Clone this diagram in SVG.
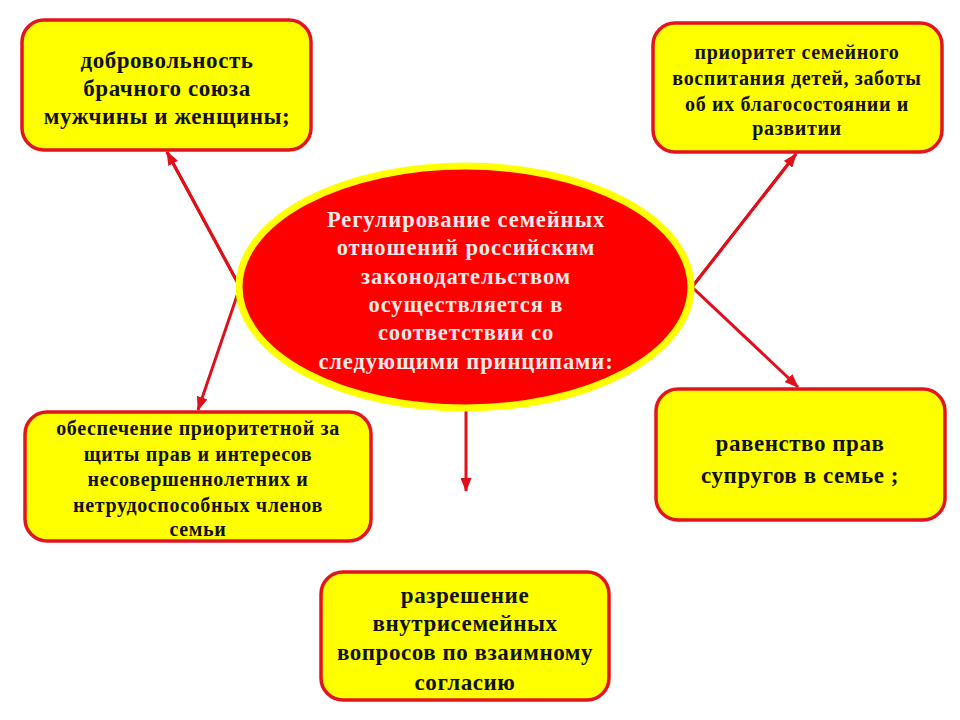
<svg xmlns="http://www.w3.org/2000/svg" width="960" height="720" viewBox="0 0 960 720">
<defs>
<style>
.box{fill:#ffff00;stroke:#e2141c;stroke-width:3.5}
.t{font-family:"Liberation Serif","Times New Roman",serif;font-weight:bold;fill:#111;text-anchor:middle}
.big{font-size:23px;letter-spacing:0.55px}
.small{font-size:20px;letter-spacing:0.65px}
.ct{font-family:"Liberation Serif","Times New Roman",serif;font-weight:bold;font-size:22.5px;fill:#fbeaea;text-anchor:middle;letter-spacing:0.9px}
.conn{stroke:#e0101a;stroke-width:3;fill:none}
</style>
<marker id="ah" viewBox="0 0 14 11" refX="13" refY="5.5" markerWidth="14" markerHeight="11" markerUnits="userSpaceOnUse" orient="auto">
<path d="M0,0 L14,5.5 L0,11 Z" fill="#e0101a"/>
</marker>
</defs>
<rect width="960" height="720" fill="#fff"/>
<g id="connectors">
<polyline class="conn" points="167,152 240,287 198,410" marker-end="url(#ah)"/>
<line class="conn" x1="240" y1="287" x2="167" y2="152" marker-end="url(#ah)"/>
<polyline class="conn" points="796,154 692,287 798,387" marker-end="url(#ah)"/>
<line class="conn" x1="692" y1="287" x2="796" y2="154" marker-end="url(#ah)"/>
<line class="conn" x1="466" y1="405" x2="466" y2="491" marker-end="url(#ah)"/>
</g>
<g id="center">
<ellipse cx="465" cy="287" rx="226" ry="121" fill="#ff0000" stroke="#ffff00" stroke-width="7"/>
<text class="ct" x="466" y="227">Регулирование семейных</text>
<text class="ct" x="466" y="255">отношений российским</text>
<text class="ct" x="466" y="284">законодательством</text>
<text class="ct" x="466" y="312">осуществляется в</text>
<text class="ct" x="466" y="340">соответствии со</text>
<text class="ct" x="466" y="369">следующими принципами:</text>
</g>
<g id="n1">
<rect class="box" x="22" y="20" width="289" height="130" rx="22"/>
<text class="t big" x="167" y="68">добровольность</text>
<text class="t big" x="167" y="96">брачного союза</text>
<text class="t big" x="167" y="124">мужчины и женщины;</text>
</g>
<g id="n2">
<rect class="box" x="653" y="23" width="289" height="129" rx="22"/>
<text class="t small" x="797" y="59">приоритет семейного</text>
<text class="t small" x="797" y="85">воспитания детей, заботы</text>
<text class="t small" x="797" y="111">об их благосостоянии и</text>
<text class="t small" x="797" y="135">развитии</text>
</g>
<g id="n3">
<rect class="box" x="25" y="412" width="346" height="129" rx="22"/>
<text class="t small" x="198" y="435">обеспечение приоритетной за</text>
<text class="t small" x="198" y="461">щиты прав и интересов</text>
<text class="t small" x="198" y="486">несовершеннолетних и</text>
<text class="t small" x="198" y="512">нетрудоспособных членов</text>
<text class="t small" x="198" y="536">семьи</text>
</g>
<g id="n4">
<rect class="box" x="656" y="389" width="289" height="131" rx="22"/>
<text class="t big" x="800" y="451">равенство прав</text>
<text class="t big" x="800" y="483">супругов в семье ;</text>
</g>
<g id="n5">
<rect class="box" x="321" y="572" width="288" height="128" rx="22"/>
<text class="t big" x="465" y="603">разрешение</text>
<text class="t big" x="465" y="631">внутрисемейных</text>
<text class="t big" x="465" y="660">вопросов по взаимному</text>
<text class="t big" x="465" y="690">согласию</text>
</g>
</svg>
